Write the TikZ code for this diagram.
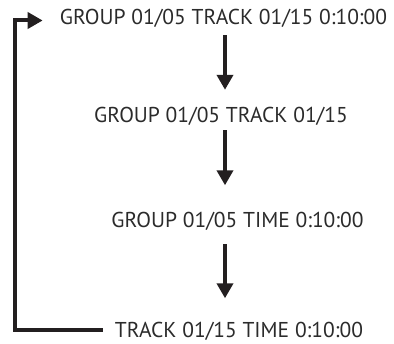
\documentclass[tikz,border=0pt]{standalone}
\usepackage{fontspec}
\setmainfont{PT Sans}
\usetikzlibrary{arrows.meta}
\definecolor{ink}{HTML}{231F20}
\definecolor{type}{HTML}{2B2B2B}
\begin{document}
\begin{tikzpicture}[x=1pt, y=-1pt,
  screen/.style={inner sep=0pt, text=type, font=\fontsize{21.5}{25}\selectfont, text height=15pt, text depth=0pt},
  flow/.style={draw=ink, line width=4pt, -{Triangle[length=15pt,width=16pt]}}]
  \useasboundingbox (0,0) rectangle (394,344);
  \coordinate (axis) at (225,0);
  \coordinate (back) at (14.5,180);

  \node[screen] (grp1) at (223.5,17.5) {GROUP 01/05 TRACK 01/15 0:10:00};
  \node[screen] (grp2) at (221,115) {GROUP 01/05 TRACK 01/15};
  \node[screen] (grp3) at (237.5,220) {GROUP 01/05 TIME 0:10:00};
  \node[screen] (grp4) at (239,330.5) {TRACK 01/15 TIME 0:10:00};

  \draw[flow, shorten <=10pt, shorten >=17.5pt] (grp1.south -| axis) -- (grp2.north -| axis);
  \draw[flow, shorten <=7.5pt, shorten >=27pt] (grp2.south -| axis) -- (grp3.north -| axis);
  \draw[flow, shorten <=16.5pt, shorten >=24.5pt] (grp3.south -| axis) -- (grp4.north -| axis);
  \draw[flow, shorten <=12pt, shorten >=17pt] (grp4.west) -| (back) |- ([yshift=-3pt]grp1.west);
\end{tikzpicture}
\end{document}
